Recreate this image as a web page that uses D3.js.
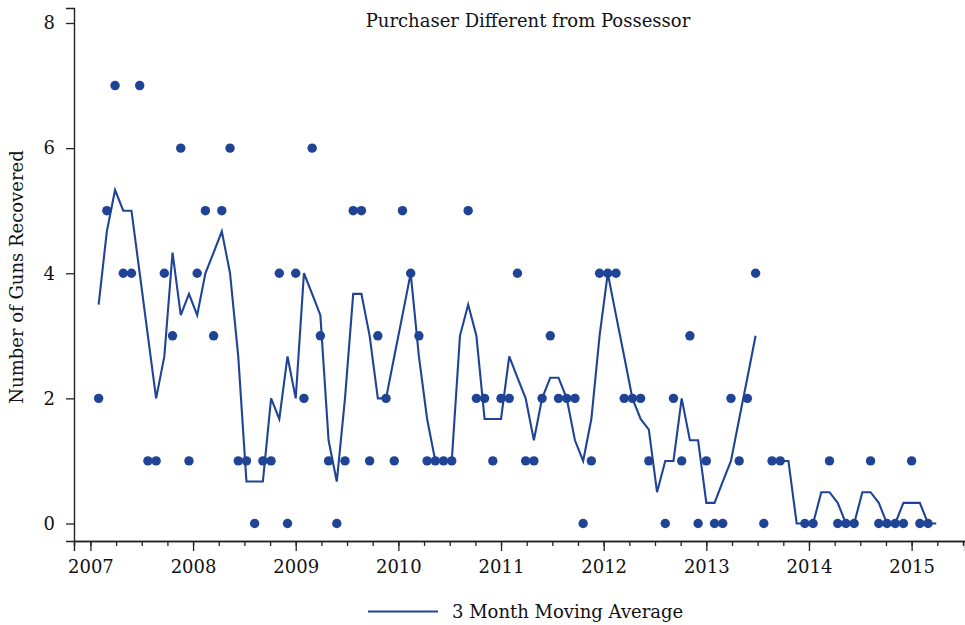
<!DOCTYPE html>
<html>
<head>
<meta charset="utf-8">
<script src="https://cdn.jsdelivr.net/npm/d3@7"></script>
<style>
  body { margin: 0; background: #fff; }
  svg text { font-family: "DejaVu Serif", serif; fill: #111; }
</style>
</head>
<body>
<svg id="chart" width="965" height="625"></svg>
<script>
// Serie mensile: armi recuperate (null = mese senza dato)
var firstPeriod = 2007.08;
var periodStep = 0.08;
var guns = [2, 5, 7, 4, 4, 7, 1, 1, 4, 3, 6, 1,
  4, 5, 3, 5, 6, 1, 1, 0, 1, 1, 4, 0,
  4, 2, 6, 3, 1, 0, 1, 5, 5, 1, 3, 2,
  1, 5, 4, 3, 1, 1, 1, 1, null, 5, 2, 2,
  1, 2, 2, 4, 1, 1, 2, 3, 2, 2, 2, 0,
  1, 4, 4, 4, 2, 2, 2, 1, null, 0, 2, 1,
  3, 0, 1, 0, 0, 2, 1, 2, 4, 0, 1, 1,
  null, null, 0, 0, null, 1, 0, 0, 0, null, 1, 0,
  0, 0, 0, 1, 0, 0, null];

// Media mobile a 3 mesi (null = interruzione della linea)
var movingAvg = [3.5, 4.67, 5.33, 5, 5, 4, 3, 2, 2.67, 4.33, 3.33, 3.67,
  3.33, 4, 4.33, 4.67, 4, 2.67, 0.67, 0.67, 0.67, 2, 1.67, 2.67,
  2, 4, 3.67, 3.33, 1.33, 0.67, 2, 3.67, 3.67, 3, 2, 2,
  2.67, 3.33, 4, 2.67, 1.67, 1, 1, 1, 3, 3.5, 3, 1.67,
  1.67, 1.67, 2.67, 2.33, 2, 1.33, 2, 2.33, 2.33, 2, 1.33, 1,
  1.67, 3, 4, 3.33, 2.67, 2, 1.67, 1.5, 0.5, 1, 1, 2,
  1.33, 1.33, 0.33, 0.33, 0.67, 1, 1.67, 2.33, 3, null, null, 1,
  1, 0, 0, 0, 0.5, 0.5, 0.33, 0, 0, 0.5, 0.5, 0.33,
  0, 0, 0.33, 0.33, 0.33, 0, 0];

var yearTicks = [2007, 2008, 2009, 2010, 2011, 2012, 2013, 2014, 2015];
var yTicks = [0, 2, 4, 6, 8];

var title = "Purchaser Different from Possessor";
var yTitle = "Number of Guns Recovered";
var legendLabel = "3 Month Moving Average";

var blue = "#1f4496";
var axisColor = "#222";
var fontSize = "18px";

var svg = d3.select("#chart");

// Scale
var xScale = d3.scaleLinear()
  .domain([2006.84, 2015.52])
  .range([74, 965]);

var yScale = d3.scaleLinear()
  .domain([-0.28, 8.24])
  .range([541, 8]);

function xOf(i) { return xScale(firstPeriod + periodStep * i); }

// Assi
var minorTicks = d3.range(2007, 2015.75, 0.25);

var xAxisMinor = d3.axisBottom(xScale)
  .tickValues(minorTicks)
  .tickSize(5)
  .tickFormat("");

var xAxis = d3.axisBottom(xScale)
  .tickValues(yearTicks)
  .tickSize(10)
  .tickPadding(9)
  .tickFormat(d3.format("d"));

var yAxis = d3.axisLeft(yScale)
  .tickValues(yTicks)
  .tickSize(8)
  .tickPadding(11)
  .tickFormat(d3.format("d"));

var gxMinor = svg.append("g")
  .attr("transform", "translate(0,541)")
  .call(xAxisMinor);

var gx = svg.append("g")
  .attr("transform", "translate(0,541)")
  .call(xAxis);

var gy = svg.append("g")
  .attr("transform", "translate(74,0)")
  .call(yAxis);

[gxMinor, gx, gy].forEach(function(g) {
  g.select(".domain").attr("stroke", axisColor).attr("stroke-width", 1.4);
  g.selectAll(".tick line").attr("stroke", axisColor).attr("stroke-width", 1.3);
  g.selectAll(".tick text")
    .style("font-family", "DejaVu Serif, serif")
    .style("font-size", fontSize)
    .attr("fill", "#111");
});

// Linea della media mobile
var line = d3.line()
  .defined(function(d) { return d != null; })
  .x(function(d, i) { return xOf(i); })
  .y(function(d) { return yScale(d); });

svg.append("path")
  .datum(movingAvg)
  .attr("fill", "none")
  .attr("stroke", blue)
  .attr("stroke-width", 2.1)
  .attr("stroke-linejoin", "miter")
  .attr("d", line);

// Punti mensili
svg.append("g")
  .selectAll("circle")
  .data(guns.map(function(v, i) { return {i: i, v: v}; }).filter(function(d) { return d.v != null; }))
  .enter()
  .append("circle")
  .attr("cx", function(d) { return xOf(d.i); })
  .attr("cy", function(d) { return yScale(d.v); })
  .attr("r", 4.7)
  .attr("fill", blue);

// Titoli
svg.append("text")
  .attr("x", 528)
  .attr("y", 27)
  .attr("text-anchor", "middle")
  .style("font-size", fontSize)
  .text(title);

svg.append("text")
  .attr("transform", "translate(23,277) rotate(-90)")
  .attr("text-anchor", "middle")
  .style("font-size", fontSize)
  .text(yTitle);

// Legenda
svg.append("line")
  .attr("x1", 368).attr("x2", 438)
  .attr("y1", 611.5).attr("y2", 611.5)
  .attr("stroke", blue)
  .attr("stroke-width", 2.1);

svg.append("text")
  .attr("x", 452)
  .attr("y", 618)
  .style("font-size", fontSize)
  .text(legendLabel);
</script>
</body>
</html>
